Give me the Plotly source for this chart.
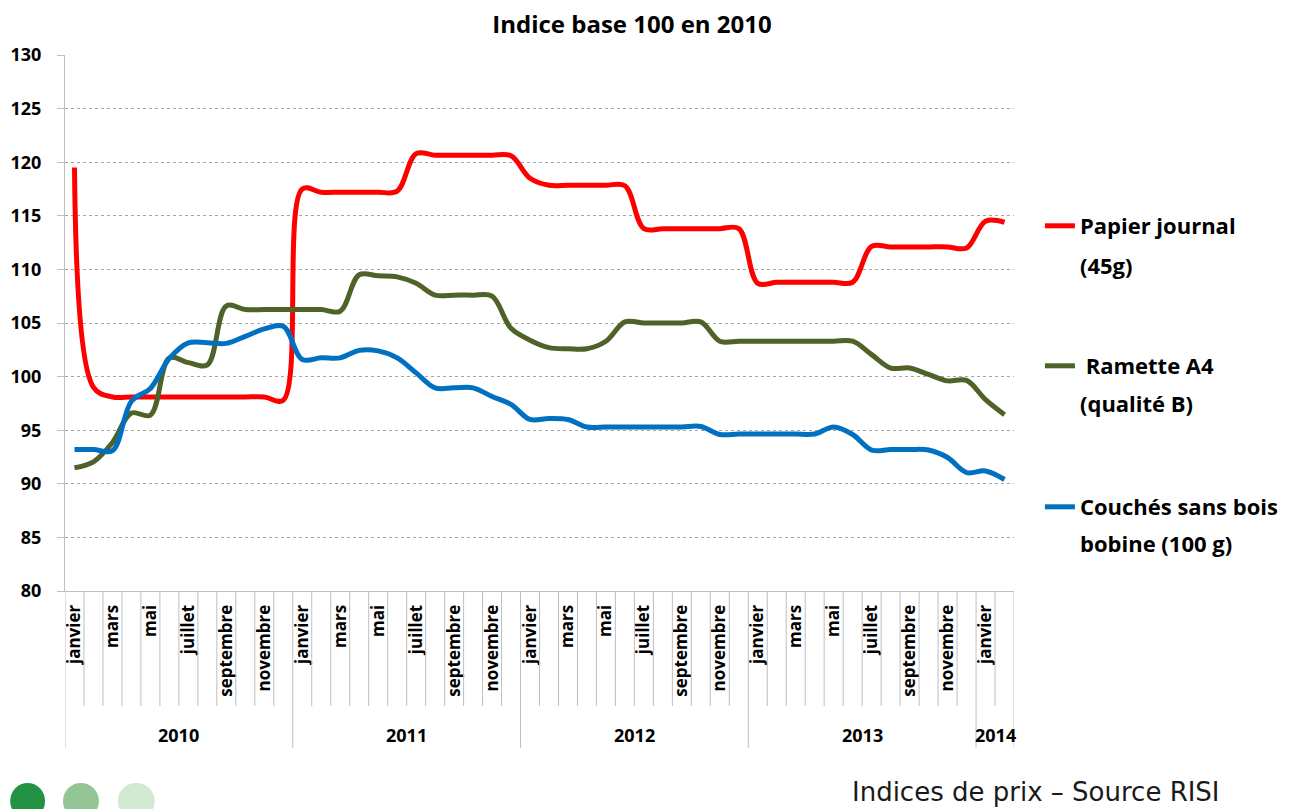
import plotly.graph_objects as go

# ---------------- data ----------------
month_names = ["janvier", "février", "mars", "avril", "mai", "juin", "juillet",
               "août", "septembre", "octobre", "novembre", "décembre"]
years = [2010, 2011, 2012, 2013, 2014]
n_months = 50  # janvier 2010 -> février 2014

papier_journal = [119.5, 99.0, 98.1, 98.1, 98.1, 98.1, 98.1, 98.1, 98.1, 98.1, 98.1, 97.8,
                  117.5, 117.2, 117.2, 117.2, 117.2, 117.3, 120.8, 120.65, 120.65, 120.65, 120.65, 120.6,
                  118.5, 117.85, 117.85, 117.85, 117.85, 117.8, 113.8, 113.8, 113.8, 113.8, 113.8, 113.8,
                  108.7, 108.8, 108.8, 108.8, 108.8, 108.8, 112.15, 112.1, 112.1, 112.1, 112.1, 112.0,
                  114.5, 114.4]
ramette_a4 = [91.5, 92.05, 93.85, 96.6, 96.4, 101.75, 101.3, 101.1, 106.6, 106.25, 106.25, 106.25,
              106.25, 106.25, 106.1, 109.5, 109.4, 109.3, 108.7, 107.6, 107.6, 107.6, 107.5, 104.5,
              103.4, 102.7, 102.6, 102.6, 103.3, 105.1, 105.0, 105.0, 105.0, 105.1, 103.3, 103.3,
              103.3, 103.3, 103.3, 103.3, 103.3, 103.3, 102.05, 100.8, 100.8, 100.2, 99.6, 99.65,
              97.85, 96.45]
couches_sans_bois = [93.2, 93.2, 93.1, 97.7, 98.9, 101.7, 103.15, 103.15, 103.1, 103.75, 104.45, 104.7,
                     101.6, 101.75, 101.75, 102.45, 102.4, 101.75, 100.35, 98.95, 98.95, 98.95, 98.15, 97.4,
                     96.0, 96.1, 96.0, 95.3, 95.3, 95.3, 95.3, 95.3, 95.3, 95.35, 94.6, 94.65,
                     94.65, 94.65, 94.65, 94.65, 95.3, 94.6, 93.15, 93.2, 93.2, 93.15, 92.45, 91.05,
                     91.2, 90.4]

series_first_lines = ["Papier journal", "\u00a0Ramette A4", "Couchés sans bois"]
series_second_lines = ["(45g)", "(qualité B)", "bobine (100 g)"]
series_colors = ["#FF0000", "#4F6228", "#0070C0"]

categories = [f"{month_names[i % 12]} {years[0] + i // 12}" for i in range(n_months)]
tick_vals = [categories[i] for i in range(0, n_months, 2)]
tick_text = [month_names[i % 12] for i in range(0, n_months, 2)]

# ---------------- geometry helpers (pixels -> paper) ----------------
W, H = 1296, 809
L, R, T, B = 65, 279, 55, 218
PW, PH = W - L - R, H - T - B


def px_x(p):
    return (p - L) / PW


def px_y(p):
    return (H - B - p) / PH


FONT = "Open Sans"

fig = go.Figure()
legends = ["legend", "legend2", "legend3"]
for name, vals, col, lg in zip(series_first_lines, [papier_journal, ramette_a4, couches_sans_bois],
                               series_colors, legends):
    fig.add_trace(go.Scatter(x=categories, y=vals, name=f"<b>{name}</b>", mode="lines",
                             line=dict(color=col, width=5, shape="spline", smoothing=1.0),
                             legend=lg, hoverinfo="x+y"))

# separators under the axis (month ticks and year dividers)
shapes = []
month_depth = px_y(706)
year_depth = px_y(748)
for b in range(n_months + 1):
    is_year = (b % 12 == 0) or (b == n_months)
    shapes.append(dict(type="line", xref="x", yref="paper", x0=b - 0.5, x1=b - 0.5,
                       y0=0, y1=year_depth if is_year else month_depth,
                       line=dict(color="#BFBFBF", width=1)))

# decorative circles bottom-left
for (x0, x1, c) in [(10, 45, "#239343"), (63, 99, "#94C594"), (118, 155, "#D1E9D1")]:
    shapes.append(dict(type="circle", xref="paper", yref="paper",
                       x0=px_x(x0), x1=px_x(x1), y0=px_y(783), y1=px_y(819),
                       fillcolor=c, line=dict(width=0), layer="above"))

annotations = []
# year labels
for k, yr in enumerate(years):
    start = k * 12
    end = min(start + 11, n_months - 1)
    annotations.append(dict(text=f"<b>{yr}</b>", xref="x", yref="paper",
                            x=(start + end) / 2, y=px_y(735), showarrow=False,
                            xanchor="center", yanchor="middle",
                            font=dict(family=FONT, size=18, color="#000000")))
# second lines of the legend entries
for txt, ypx in zip(series_second_lines, [265, 403, 543]):
    annotations.append(dict(text=f"<b>{txt}</b>", xref="paper", yref="paper",
                            x=px_x(1081), y=px_y(ypx), xanchor="left", yanchor="middle",
                            showarrow=False, font=dict(family=FONT, size=22, color="#000000")))
annotations.append(dict(text="Indices de prix – Source RISI", xref="paper", yref="paper",
                        x=px_x(1226), y=px_y(809), xanchor="right", yanchor="bottom",
                        showarrow=False, font=dict(family="DejaVu Sans", size=26, color="#1a1a1a")))

leg_common = dict(xanchor="left", yanchor="top", valign="middle", bgcolor="rgba(0,0,0,0)",
                  font=dict(family=FONT, size=22, color="#000000"), itemwidth=30,
                  traceorder="normal")
leg_x = px_x(1043)

fig.update_layout(
    width=W, height=H,
    margin=dict(l=L, r=R, t=T, b=B),
    paper_bgcolor="white", plot_bgcolor="white",
    title=dict(text="<b>Indice base 100 en 2010</b>", xref="container", yref="container",
               x=632 / W, y=1 - 25 / H, xanchor="center", yanchor="middle",
               font=dict(family=FONT, size=24, color="#000000")),
    xaxis=dict(type="category", categoryorder="array", categoryarray=categories,
               range=[-0.5, n_months - 0.5], tickmode="array", tickvals=tick_vals,
               ticktext=[f"<b>{t}</b>" for t in tick_text], tickangle=-90,
               tickfont=dict(family=FONT, size=17, color="#000000"),
               showgrid=False, showline=True, linecolor="#BFBFBF", linewidth=1,
               ticks="", ticklabelstandoff=6, zeroline=False),
    yaxis=dict(range=[80, 130], dtick=5, tick0=80,
               tickfont=dict(family=FONT, size=18, color="#000000"),
               tickprefix="<b>", ticksuffix="</b>",
               showgrid=True, gridcolor="#A6A6A6", griddash="dot", gridwidth=1,
               showline=True, linecolor="#BFBFBF", linewidth=1,
               ticks="outside", ticklen=7, tickcolor="#BFBFBF", ticklabelstandoff=12,
               zeroline=False),
    legend=dict(x=leg_x, y=px_y(205), **leg_common),
    legend2=dict(x=leg_x, y=px_y(345), **leg_common),
    legend3=dict(x=leg_x, y=px_y(486), **leg_common),
    shapes=shapes,
    annotations=annotations,
    showlegend=True,
)

fig.write_html("out.html", config={"displayModeBar": False},
               post_script="document.body.style.margin='0';")
